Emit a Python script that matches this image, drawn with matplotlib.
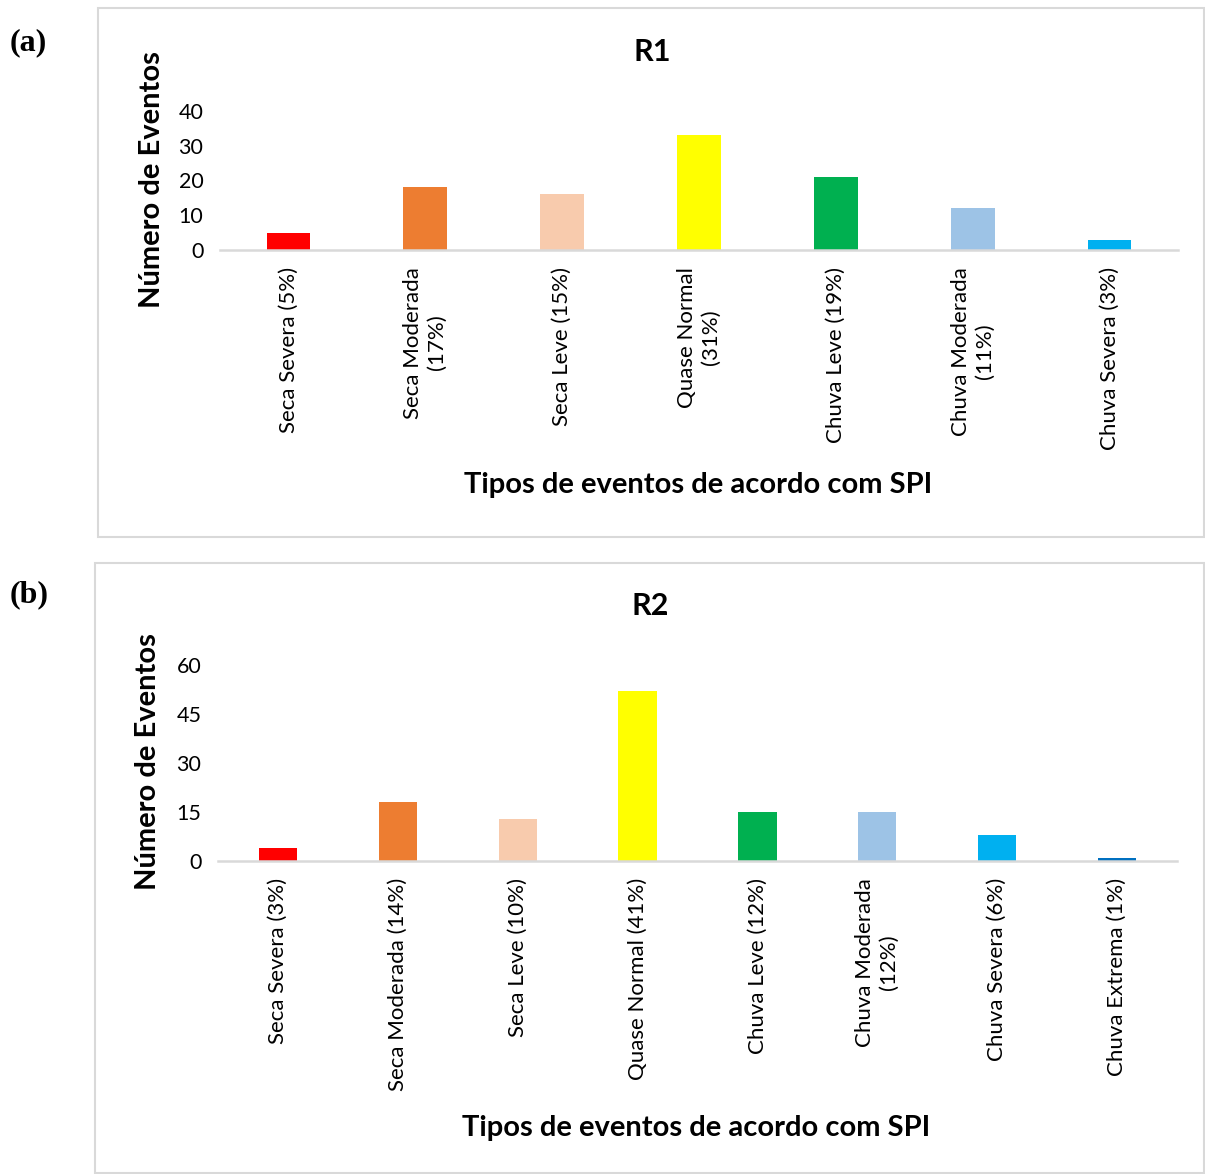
import matplotlib.pyplot as plt
from matplotlib.patches import Rectangle

# Event counts per SPI class
cats_r1 = ['Seca Severa (5%)', 'Seca Moderada\n(17%)', 'Seca Leve (15%)', 'Quase Normal\n(31%)',
           'Chuva Leve (19%)', 'Chuva Moderada\n(11%)', 'Chuva Severa (3%)']
vals_r1 = [5, 18, 16, 33, 21, 12, 3]
cols_r1 = ['#FF0000', '#ED7D31', '#F8CBAD', '#FFFF00', '#00B050', '#9DC3E6', '#00B0F0']

cats_r2 = ['Seca Severa (3%)', 'Seca Moderada (14%)', 'Seca Leve (10%)', 'Quase Normal (41%)',
           'Chuva Leve (12%)', 'Chuva Moderada\n(12%)', 'Chuva Severa (6%)', 'Chuva Extrema (1%)']
vals_r2 = [4, 18, 13, 52, 15, 15, 8, 1]
cols_r2 = ['#FF0000', '#ED7D31', '#F8CBAD', '#FFFF00', '#00B050', '#9DC3E6', '#00B0F0', '#0070C0']

W, H = 1205, 1174
FONT = 'Lato'

fig = plt.figure(figsize=(W / 100, H / 100), dpi=100)

def fx(x):
    return x / W

def fy(y):
    return 1 - y / H

def box(x0, y0, x1, y1):
    fig.patches.append(Rectangle((fx(x0), fy(y1)), fx(x1 - x0), (y1 - y0) / H,
                                 transform=fig.transFigure, fill=False,
                                 edgecolor='#D9D9D9', linewidth=1.5))

def panel(left, right, top, zero, cats, vals, cols, ymax, yticks):
    ax = fig.add_axes([fx(left), fy(zero), fx(right - left), (zero - top) / H])
    x = range(len(cats))
    ax.bar(x, vals, width=0.32, color=cols)
    ax.set_ylim(0, ymax)
    ax.set_xlim(-0.5, len(cats) - 0.5)
    ax.set_yticks(yticks)
    ax.set_xticks(list(x))
    ax.set_xticklabels(cats, rotation=90, multialignment='center',
                       fontsize=16, family=FONT, linespacing=1.25)
    for lab in ax.get_yticklabels():
        lab.set_fontsize(15.5)
        lab.set_family(FONT)
    ax.tick_params(axis='both', length=0)
    ax.tick_params(axis='x', pad=12)
    ax.tick_params(axis='y', pad=12)
    for s in ['top', 'right', 'left']:
        ax.spines[s].set_visible(False)
    ax.spines['bottom'].set_color('#D9D9D9')
    ax.spines['bottom'].set_linewidth(1.8)
    return ax

# (a) R1
box(98, 8, 1204, 537)
panel(220, 1178, 111, 250, cats_r1, vals_r1, cols_r1, 40, [0, 10, 20, 30, 40])
fig.text(fx(652), fy(52), 'R1', ha='center', va='center', fontsize=22,
         fontweight='bold', family=FONT)
fig.text(fx(152), fy(180), 'Número de Eventos', rotation=90, ha='center', va='center',
         fontsize=21, fontweight='bold', family=FONT)
fig.text(fx(698), fy(485), 'Tipos de eventos de acordo com SPI', ha='center', va='center',
         fontsize=21, fontweight='bold', family=FONT)
fig.text(fx(10), fy(43), '(a)', ha='left', va='center', fontsize=23,
         fontweight='bold', family='Liberation Serif')

# (b) R2
box(95, 563, 1204, 1173)
panel(218, 1177, 665, 861, cats_r2, vals_r2, cols_r2, 60, [0, 15, 30, 45, 60])
fig.text(fx(650), fy(606), 'R2', ha='center', va='center', fontsize=22,
         fontweight='bold', family=FONT)
fig.text(fx(148), fy(762), 'Número de Eventos', rotation=90, ha='center', va='center',
         fontsize=21, fontweight='bold', family=FONT)
fig.text(fx(696), fy(1128), 'Tipos de eventos de acordo com SPI', ha='center', va='center',
         fontsize=21, fontweight='bold', family=FONT)
fig.text(fx(10), fy(595), '(b)', ha='left', va='center', fontsize=23,
         fontweight='bold', family='Liberation Serif')

fig.savefig('out.png', dpi=100)
